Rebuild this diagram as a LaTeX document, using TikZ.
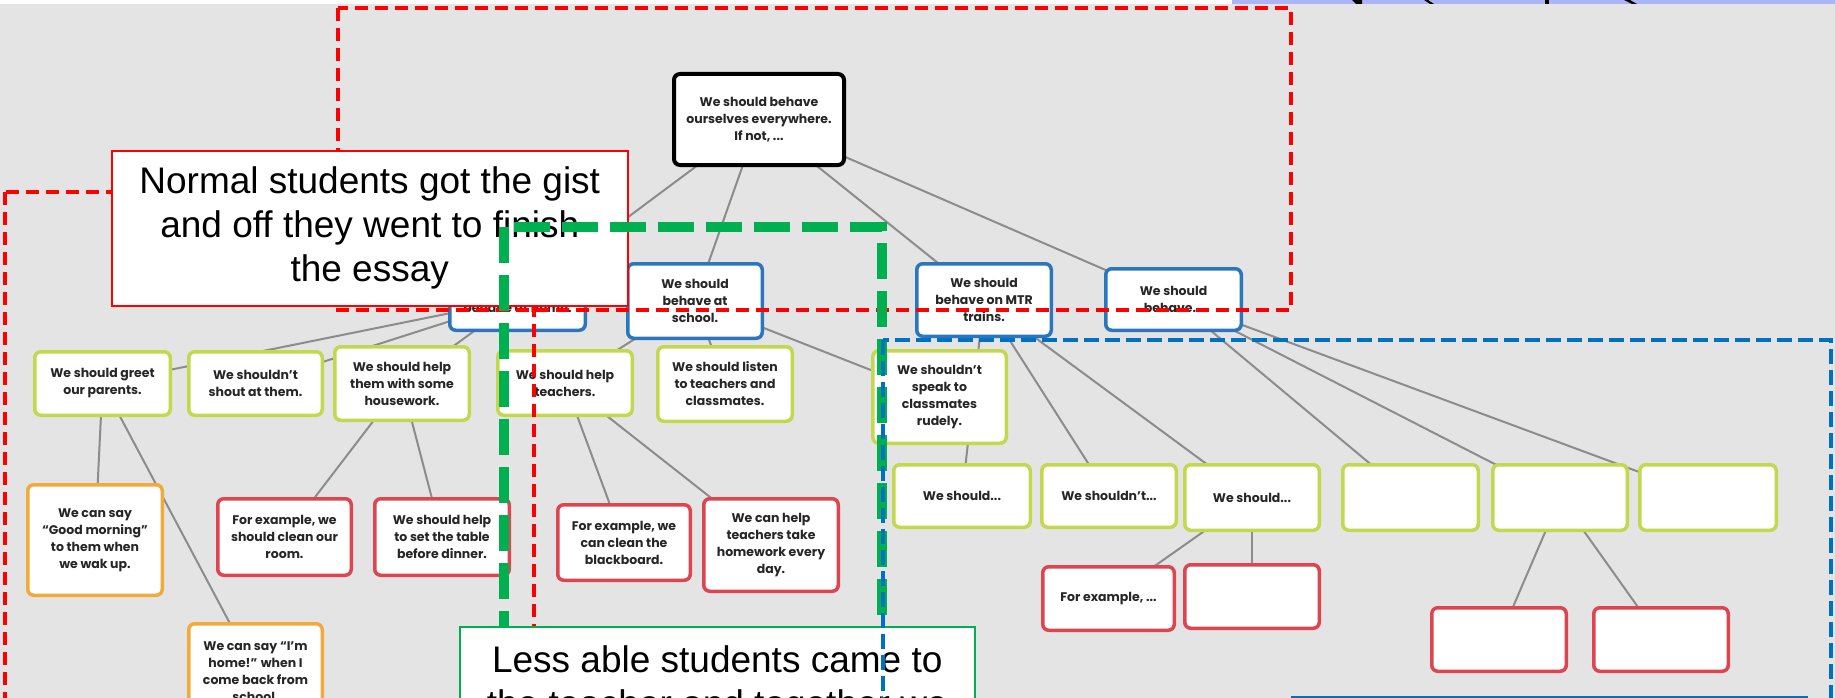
\documentclass[tikz,border=0pt]{standalone}
\usepackage{fontspec}
\setmainfont{Liberation Sans}
\newfontfamily\mapfont{Poppins}
\definecolor{bggray}{HTML}{E4E4E4}
\definecolor{lav}{HTML}{AAB4F7}
\definecolor{mapblue}{HTML}{2B77BE}
\definecolor{mapgreen}{HTML}{C3D84E}
\definecolor{mapred}{HTML}{DD4550}
\definecolor{maporange}{HTML}{F1AA3C}
\definecolor{linkgray}{HTML}{8C8C8C}
\definecolor{annred}{HTML}{FF0000}
\definecolor{anngreen}{HTML}{00B050}
\definecolor{annblue}{HTML}{0070C0}
\pgfdeclarelayer{bg}
\pgfdeclarelayer{edges}
\pgfsetlayers{bg,edges,main}
\begin{document}
\begin{tikzpicture}[x=1pt,y=-1pt,
  card/.style={draw,fill=white,rounded corners=6pt,line width=3.5pt,align=center,
    inner sep=2pt,text=black!85,font=\mapfont\bfseries\fontsize{12.5}{17}\selectfont},
  rootcard/.style={card,draw=black,line width=4pt},
  bluecard/.style={card,draw=mapblue},
  greencard/.style={card,draw=mapgreen},
  orangecard/.style={card,draw=maporange},
  redcard/.style={card,draw=mapred},
  link/.style={draw=linkgray,line width=2pt},
  sz/.style 2 args={minimum width=#1pt,minimum height=#2pt},
  callout/.style={fill=white,line width=1.5pt,align=center,inner xsep=0pt,
    font=\fontsize{37}{44}\selectfont},
  redbox/.style={draw=annred,line width=4.5pt,dash pattern=on 13pt off 7pt},
  greenbox/.style={draw=anngreen,line width=10.5pt,dash pattern=on 36pt off 12pt},
  bluebox/.style={draw=annblue,line width=4.5pt,dash pattern=on 15pt off 6pt}
]
\useasboundingbox (0,0) rectangle (1835,698);
\clip (0,0) rectangle (1835,698);
\begin{pgfonlayer}{bg}
\fill[bggray] (0,0) rectangle (1835,698);
\fill[white] (0,0) rectangle (1232,4);
\fill[lav] (1232,0) rectangle (1835,4);
\fill[black] (1352,0) -- (1362,0) -- (1362,4) -- (1356,4) -- cycle;
\fill[black] (1424,0) -- (1428,0) -- (1434,4) -- (1430,4) -- cycle;
\fill[black] (1545,0) rectangle (1549,4);
\fill[black] (1624,0) -- (1630,0) -- (1637,4) -- (1632,4) -- cycle;
\end{pgfonlayer}

% mind map nodes
\node[rootcard,sz={170}{91}] (root) at (759,119.5) {We should behave\\ourselves everywhere.\\If not, ...};
\node[bluecard,sz={135.5}{61.5}] (B1) at (517.5,299.5) {We should\\behave at home.};
\node[bluecard,sz={134.5}{74.5}] (B2) at (695,301) {We should\\behave at\\school.};
\node[bluecard,sz={134.5}{72.5}] (B3) at (984,300) {We should\\behave on MTR\\trains.};
\node[bluecard,sz={135.5}{61.5}] (B4) at (1173.5,299.5) {We should\\behave...};

\node[greencard,sz={135.5}{63.5}] (G1) at (102.5,383.5) {We should greet\\our parents.};
\node[greencard,sz={133.5}{63.5}] (G2) at (255.5,383.5) {We shouldn’t\\shout at them.};
\node[greencard,sz={134.5}{73.5}] (G3) at (402,383.5) {We should help\\them with some\\housework.};
\node[greencard,sz={134.5}{64.5}] (G4) at (565,383) {We should help\\teachers.};
\node[greencard,sz={134.5}{74.5}] (G5) at (725,384) {We should listen\\to teachers and\\classmates.};
\node[greencard,sz={133.5}{92.5}] (G6) at (939.5,397) {We shouldn’t\\speak to\\classmates\\rudely.};
\node[greencard,sz={136.5}{62.5}] (G7) at (962,496) {We should...};
\node[greencard,sz={134.5}{62.5}] (G8) at (1109,496) {We shouldn’t...};
\node[greencard,sz={134.5}{65.5}] (G9) at (1252,497.5) {We should...};
\node[greencard,sz={135.5}{65.5}] (G10) at (1410.5,497.5) {};
\node[greencard,sz={134.5}{65.5}] (G11) at (1560,497.5) {};
\node[greencard,sz={136.5}{65.5}] (G12) at (1708,497.5) {};

\node[orangecard,sz={134.5}{110.5}] (O1) at (95,540) {We can say\\“Good morning”\\to them when\\we wak up.};
\node[orangecard,sz={133.5}{95.5}] (O2) at (255.5,671.5) {We can say “I’m\\home!” when I\\come back from\\school.};

\node[redcard,sz={133.5}{76.5}] (R1) at (284.5,537) {For example, we\\should clean our\\room.};
\node[redcard,sz={134.5}{76.5}] (R2) at (442,537) {We should help\\to set the table\\before dinner.};
\node[redcard,sz={132.5}{75.5}] (R3) at (624,542.5) {For example, we\\can clean the\\blackboard.};
\node[redcard,sz={134.5}{92.5}] (R4) at (771,545) {We can help\\teachers take\\homework every\\day.};
\node[redcard,sz={131.5}{63.5}] (R5) at (1108.5,598.5) {For example, ...};
\node[redcard,sz={134.5}{63.5}] (R6) at (1252,596.5) {};
\node[redcard,sz={134.5}{63.5}] (R7) at (1499,639.5) {};
\node[redcard,sz={134.5}{63.5}] (R8) at (1661,639.5) {};

% connectors, centre to centre, under the cards
\begin{pgfonlayer}{edges}
\foreach \a/\b in {root/B1,root/B2,root/B3,root/B4,
  B1/G1,B1/G2,B1/G3,B2/G4,B2/G5,B2/G6,B3/G7,B3/G8,B3/G9,B4/G10,B4/G11,B4/G12,
  G1/O1,G1/O2,G3/R1,G3/R2,G4/R3,G4/R4,G9/R5,G9/R6,G11/R7,G11/R8}
  \draw[link] (\a.center) -- (\b.center);
\end{pgfonlayer}

% annotation layer
\draw[redbox] (338,8) rectangle (1291,310);
\draw[redbox] (5,192) rectangle (534,760);
\node[callout,draw=annred,inner ysep=0pt,minimum width=516pt,minimum height=155pt,anchor=north west]
  (normal) at (111,150) {Normal students got the gist\\and off they went to finish\\the essay};
\draw[greenbox] (504,227) rectangle (882,760);
\node[callout,draw=anngreen,inner ysep=19pt,minimum width=515pt,anchor=north west]
  (lessable) at (459,626) {Less able students came to\\the teacher and together we};
\draw[bluebox] (883,340) rectangle (1831,760);
\node[fill=white,draw=annblue,line width=1.5pt,minimum width=515pt,minimum height=150pt,anchor=north west]
  (third) at (1291,696) {};
\end{tikzpicture}
\end{document}
